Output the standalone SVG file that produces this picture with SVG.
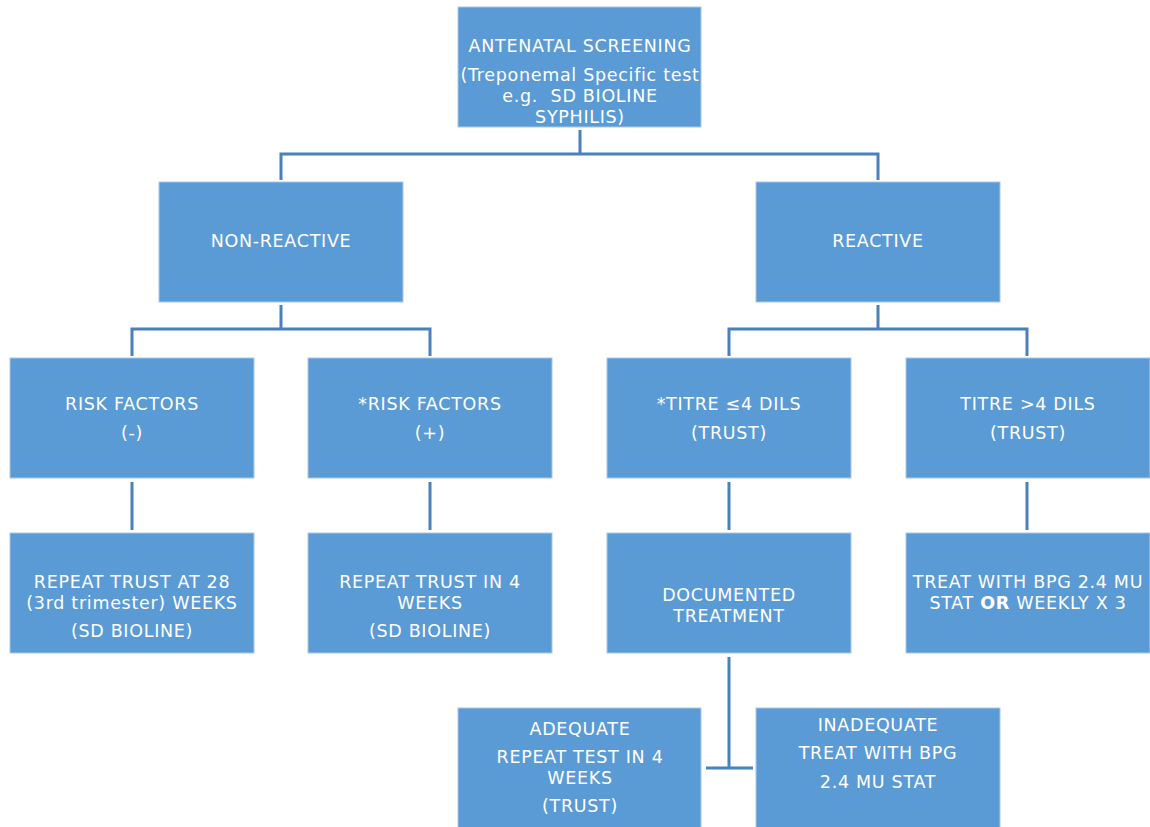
<svg xmlns="http://www.w3.org/2000/svg" width="1150" height="827" viewBox="0 0 1150 827">
<style>
.box{fill:#5b9bd5;stroke:#a9c8ea;stroke-width:1}
.t{font-family:"DejaVu Sans",Verdana,sans-serif;font-size:17.5px;letter-spacing:0.7px;fill:#ffffff;text-anchor:middle}
.c{fill:none;stroke:#4a80bb;stroke-width:3}
</style>
<rect width="1150" height="827" fill="#ffffff"/>
<g id="connectors">
<path class="c" d="M580,130 V154 M281,180 V154 H878 V180"/>
<path class="c" d="M281,305 V329 M132,356 V329 H430 V356"/>
<path class="c" d="M878,305 V329 M729,356 V329 H1027 V356"/>
<path class="c" d="M132,482 V530 M430,482 V530 M729,482 V530 M1027,482 V530"/>
<path class="c" d="M729,657 V768 M706,768 H753"/>
</g>
<g id="antenatal">
<rect class="box" x="458" y="7" width="243" height="120"/>
<text class="t" x="580" y="52">ANTENATAL SCREENING</text>
<text class="t" x="580" y="81">(Treponemal Specific test</text>
<text class="t" x="580" y="102" xml:space="preserve">e.g.  SD BIOLINE</text>
<text class="t" x="580" y="123">SYPHILIS)</text>
</g>
<g id="nonreactive">
<rect class="box" x="159" y="182" width="244" height="120"/>
<text class="t" x="281" y="247">NON-REACTIVE</text>
</g>
<g id="reactive">
<rect class="box" x="756" y="182" width="244" height="120"/>
<text class="t" x="878" y="247">REACTIVE</text>
</g>
<g id="riskneg">
<rect class="box" x="10" y="358" width="244" height="120"/>
<text class="t" x="132" y="410">RISK FACTORS</text>
<text class="t" x="132" y="439">(-)</text>
</g>
<g id="riskpos">
<rect class="box" x="308" y="358" width="244" height="120"/>
<text class="t" x="430" y="410">*RISK FACTORS</text>
<text class="t" x="430" y="439">(+)</text>
</g>
<g id="titrelow">
<rect class="box" x="607" y="358" width="244" height="120"/>
<text class="t" x="729" y="410">*TITRE ≤4 DILS</text>
<text class="t" x="729" y="439">(TRUST)</text>
</g>
<g id="titrehigh">
<rect class="box" x="906" y="358" width="244" height="120"/>
<text class="t" x="1028" y="410">TITRE &gt;4 DILS</text>
<text class="t" x="1028" y="439">(TRUST)</text>
</g>
<g id="repeat28">
<rect class="box" x="10" y="533" width="244" height="120"/>
<text class="t" x="132" y="588">REPEAT TRUST AT 28</text>
<text class="t" x="132" y="609">(3rd trimester) WEEKS</text>
<text class="t" x="132" y="637">(SD BIOLINE)</text>
</g>
<g id="repeat4">
<rect class="box" x="308" y="533" width="244" height="120"/>
<text class="t" x="430" y="588">REPEAT TRUST IN 4</text>
<text class="t" x="430" y="609">WEEKS</text>
<text class="t" x="430" y="637">(SD BIOLINE)</text>
</g>
<g id="documented">
<rect class="box" x="607" y="533" width="244" height="120"/>
<text class="t" x="729" y="601">DOCUMENTED</text>
<text class="t" x="729" y="622">TREATMENT</text>
</g>
<g id="treatbpg">
<rect class="box" x="906" y="533" width="244" height="120"/>
<text class="t" x="1028" y="588">TREAT WITH BPG 2.4 MU</text>
<text class="t" x="1028" y="609">STAT <tspan font-weight="bold">OR</tspan> WEEKLY X 3</text>
</g>
<g id="adequate">
<rect class="box" x="458" y="708" width="243" height="125"/>
<text class="t" x="580" y="735">ADEQUATE</text>
<text class="t" x="580" y="763">REPEAT TEST IN 4</text>
<text class="t" x="580" y="784">WEEKS</text>
<text class="t" x="580" y="812">(TRUST)</text>
</g>
<g id="inadequate">
<rect class="box" x="756" y="708" width="244" height="125"/>
<text class="t" x="878" y="731">INADEQUATE</text>
<text class="t" x="878" y="759">TREAT WITH BPG</text>
<text class="t" x="878" y="788">2.4 MU STAT</text>
</g>
</svg>
